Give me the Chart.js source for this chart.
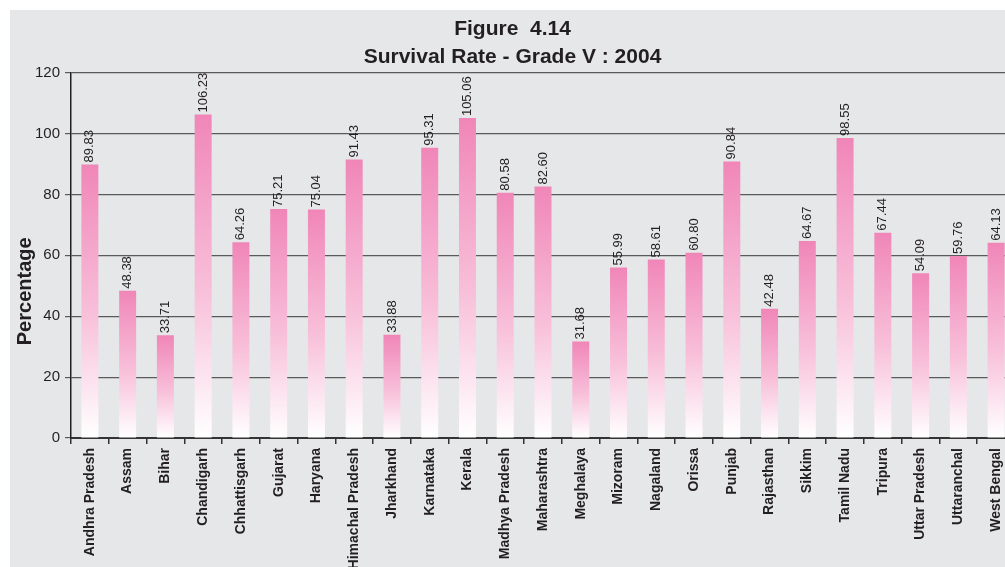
<!DOCTYPE html>
<html>
<head>
<meta charset="utf-8">
<script src="https://cdn.jsdelivr.net/npm/chart.js@4"></script>
<style>
  body { margin: 0; background: #fff; overflow: hidden; }
  .panel { position: absolute; left: 10px; top: 10px; width: 1010px; height: 557px; background: #e6e7e9; }
</style>
</head>
<body>
<div class="panel"><canvas id="survival" width="1010" height="557"></canvas></div>
<script>
/*_____________________DATA____________________*/

const states = ['Andhra Pradesh', 'Assam', 'Bihar', 'Chandigarh', 'Chhattisgarh',
                'Gujarat', 'Haryana', 'Himachal Pradesh', 'Jharkhand', 'Karnataka',
                'Kerala', 'Madhya Pradesh', 'Maharashtra', 'Meghalaya', 'Mizoram',
                'Nagaland', 'Orissa', 'Punjab', 'Rajasthan', 'Sikkim',
                'Tamil Nadu', 'Tripura', 'Uttar Pradesh', 'Uttaranchal', 'West Bengal']
const survival_rate = [89.83, 48.38, 33.71, 106.23, 64.26,
                       75.21, 75.04, 91.43, 33.88, 95.31,
                       105.06, 80.58, 82.60, 31.68, 55.99,
                       58.61, 60.80, 90.84, 42.48, 64.67,
                       98.55, 67.44, 54.09, 59.76, 64.13]
const title_lines = ['Figure  4.14', 'Survival Rate - Grade V : 2004']
const y_title = 'Percentage'

const font_name = "'Liberation Sans', Arial, sans-serif"
const text_col = '#231f20'

/*_____________________PLUGINS____________________*/

// values written upright over each bar
const bar_values = {
  id: 'bar_values',
  afterDatasetsDraw(chart) {
    const ctx = chart.ctx
    const meta = chart.getDatasetMeta(0)
    ctx.save()
    ctx.font = '13px ' + font_name
    ctx.fillStyle = text_col
    meta.data.forEach(function(bar, i) {
      ctx.save()
      ctx.translate(bar.x, bar.y - 2)
      ctx.rotate(-Math.PI / 2)
      ctx.textAlign = 'left'
      ctx.textBaseline = 'middle'
      ctx.fillText(survival_rate[i].toFixed(2), 0, 0)
      ctx.restore()
    })
    ctx.restore()
  }
}

// y axis title, sits a bit lower than the middle of the plot
const y_axis_title = {
  id: 'y_axis_title',
  afterDraw(chart) {
    const ctx = chart.ctx
    const area = chart.chartArea
    ctx.save()
    ctx.font = 'bold 20px ' + font_name
    ctx.fillStyle = text_col
    ctx.translate(15, (area.top + area.bottom) / 2 + 36)
    ctx.rotate(-Math.PI / 2)
    ctx.textAlign = 'center'
    ctx.textBaseline = 'middle'
    ctx.fillText(y_title, 0, 0)
    ctx.restore()
  }
}

function bar_fill(c) {
  const chart = c.chart
  if (!chart.chartArea || c.type !== 'data') return '#f086b8'
  const y = chart.scales.y
  const top = y.getPixelForValue(c.raw)
  const base = y.getPixelForValue(0)
  const g = chart.ctx.createLinearGradient(0, top, 0, base)
  g.addColorStop(0, '#f086b8')
  g.addColorStop(0.55, '#f8c0da')
  g.addColorStop(1, '#ffffff')
  return g
}

/*_____________________CHART____________________*/

const survival = document.getElementById('survival')
new Chart(survival, {
  type: 'bar',
  data: {
    labels: states,
    datasets: [
      {
        label: y_title,
        data: survival_rate,
        backgroundColor: bar_fill,
        barPercentage: 0.45,
        categoryPercentage: 1
      }
    ]
  },
  options: {
    responsive: false,
    animation: false,
    layout: {padding: {top: 0, right: 5, left: 0, bottom: 0}},
    plugins: {
      legend: {display: false},
      tooltip: {enabled: false},
      title: {
        display: true,
        text: title_lines,
        color: text_col,
        font: {family: font_name, size: 21, weight: 'bold', lineHeight: 1.3},
        padding: {top: 6, bottom: 2}
      }
    },
    scales: {
      x: {
        afterFit: function(s) { s.height = 129 },
        grid: {display: true, drawOnChartArea: false, offset: true, color: '#333', tickLength: 6, lineWidth: 1.5},
        border: {color: '#333', width: 2},
        ticks: {
          autoSkip: false, minRotation: 90, maxRotation: 90, padding: 4,
          color: text_col,
          font: {family: font_name, size: 14, weight: 'bold'}
        }
      },
      y: {
        min: 0, max: 120,
        afterFit: function(s) { s.width = 61 },
        grid: {color: '#5a5a5a', lineWidth: 1.2, tickLength: 6},
        border: {color: '#222', width: 1.5},
        ticks: {
          stepSize: 20, padding: 5,
          color: text_col,
          font: {family: font_name, size: 15}
        }
      }
    }
  },
  plugins: [bar_values, y_axis_title]
})
</script>
</body>
</html>
